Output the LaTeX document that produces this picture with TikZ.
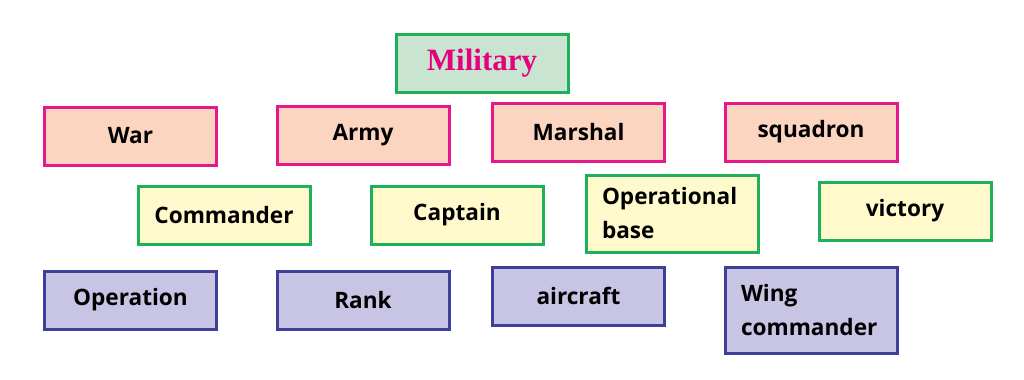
\documentclass[tikz,border=0pt]{standalone}
\usepackage{fontspec}
\setmainfont{Open Sans}
\newfontfamily\titlefont{Liberation Serif}
\usetikzlibrary{positioning}
\definecolor{TitleGreen}{HTML}{1DB057}
\definecolor{TitleFill}{HTML}{C9E5D2}
\definecolor{TitlePink}{HTML}{E6007E}
\definecolor{PeachFill}{HTML}{FCD5C0}
\definecolor{PeachLine}{HTML}{E6198A}
\definecolor{CreamFill}{HTML}{FFF9CC}
\definecolor{CreamLine}{HTML}{1EB05A}
\definecolor{LilacFill}{HTML}{C8C4E4}
\definecolor{LilacLine}{HTML}{3E3F98}

\begin{document}
\begin{tikzpicture}[x=0.5pt,y=-0.5pt,
word/.style={draw,line width=1.5pt,minimum width=86pt,minimum height=29pt,inner sep=0pt,font=\fontsize{11.3}{17}\selectfont\bfseries},
peach/.style={word,fill=PeachFill,draw=PeachLine},
cream/.style={word,fill=CreamFill,draw=CreamLine},
lilac/.style={word,fill=LilacFill,draw=LilacLine},
twoline/.style={align=left,text width=70pt}
]
\useasboundingbox (0,0) rectangle (1024,380);
\node[word,fill=TitleFill,draw=TitleGreen,text=TitlePink,font=\titlefont\fontsize{15.5}{18}\selectfont\bfseries] (mil) at (482,63) {Military};
% first row
\node[peach] (war) at (130.5,136) {War};
\node[peach] (army) at (363,135) {Army};
\node[peach] (marshal) at (578.5,132) {Marshal};
\node[peach] (squadron) at (811,132) {squadron};
% second row
\node[cream] (commander) at (224,215) {Commander};
\node[cream] (captain) at (457,215) {Captain};
\node[cream,twoline,minimum height=38.5pt] (base) at (672,213.5) {Operational\\base};
\node[cream] (victory) at (905,211) {victory};
% third row
\node[lilac] (operation) at (130.5,300) {Operation};
\node[lilac] (rank) at (363,300) {Rank};
\node[lilac] (aircraft) at (578.5,296) {aircraft};
\node[lilac,twoline,minimum height=43pt] (wing) at (811,310) {Wing\\commander};
\end{tikzpicture}
\end{document}
